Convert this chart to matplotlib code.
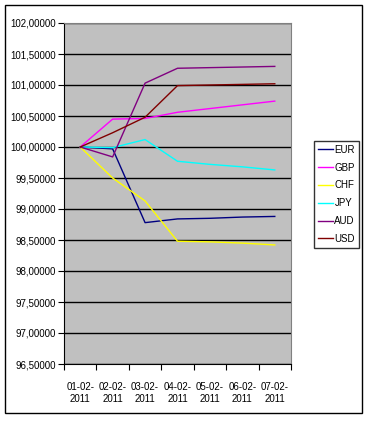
import matplotlib.pyplot as plt
from matplotlib.ticker import FuncFormatter, FixedLocator

plt.rcParams['font.family'] = ['Liberation Sans', 'DejaVu Sans']

dates = ["01-02-\n2011", "02-02-\n2011", "03-02-\n2011", "04-02-\n2011",
         "05-02-\n2011", "06-02-\n2011", "07-02-\n2011"]

eur = [100.0, 99.97, 98.78, 98.84, 98.85, 98.87, 98.88]
gbp = [100.0, 100.45, 100.46, 100.56, 100.62, 100.68, 100.74]
chf = [100.0, 99.50, 99.13, 98.48, 98.47, 98.45, 98.42]
jpy = [100.0, 99.99, 100.12, 99.77, 99.72, 99.68, 99.63]
aud = [100.0, 99.84, 101.03, 101.27, 101.28, 101.29, 101.30]
usd = [100.0, 100.23, 100.48, 100.99, 101.00, 101.01, 101.02]

series = [("EUR", eur, "#000080"), ("GBP", gbp, "#FF00FF"), ("CHF", chf, "#FFFF00"),
          ("JPY", jpy, "#00FFFF"), ("AUD", aud, "#800080"), ("USD", usd, "#800000")]

fig = plt.figure(figsize=(3.69, 4.24), dpi=100)
# outer chart border
fig.patches.append(plt.Rectangle((5 / 369, 1 - 413 / 424), 357 / 369, 408 / 424,
                                 transform=fig.transFigure, fill=False,
                                 edgecolor="black", linewidth=1))

ax = fig.add_axes([64 / 369, 1 - 364 / 424, 227 / 369, 341 / 424])
ax.set_facecolor("#C0C0C0")

x = list(range(len(dates)))
for name, vals, col in series:
    ax.plot(x, vals, color=col, linewidth=1, label=name)

ax.set_xlim(-0.5, len(dates) - 0.5)
ax.set_ylim(96.5, 102.0)
ax.set_yticks([96.5 + 0.5 * i for i in range(12)])
ax.yaxis.set_major_formatter(FuncFormatter(lambda v, p: f"{v:.5f}".replace(".", ",")))
ax.yaxis.grid(True, color="black", linewidth=1)
ax.set_axisbelow(True)

ax.xaxis.set_major_locator(FixedLocator([i - 0.5 for i in range(len(dates) + 1)]))
ax.xaxis.set_minor_locator(FixedLocator(x))
ax.set_xticklabels([])
ax.set_xticklabels(dates, minor=True, linespacing=1.3)
ax.tick_params(axis="x", which="minor", length=0, pad=13, labelsize=7)
ax.tick_params(axis="x", which="major", length=4, direction="out")
ax.tick_params(axis="y", length=4, direction="out", labelsize=7, pad=2)

for s in ["top", "right"]:
    ax.spines[s].set_color("#808080")
ax.spines["left"].set_color("black")
ax.spines["bottom"].set_color("black")

leg = fig.legend(loc="upper left", bbox_to_anchor=(314 / 369, 1 - 141 / 424),
                 fontsize=7, frameon=True, fancybox=False, edgecolor="black",
                 handlelength=1.6, handletextpad=0.1, labelspacing=0.8,
                 borderpad=0.4, borderaxespad=0)
leg.get_frame().set_linewidth(1)

fig.savefig("out.png", dpi=100)
